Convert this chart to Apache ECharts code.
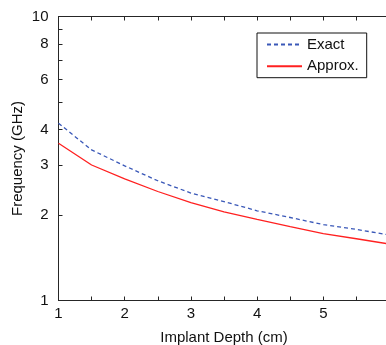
<!DOCTYPE html>
<html>
<head>
<meta charset="utf-8">
<script src="https://cdn.jsdelivr.net/npm/echarts@6/dist/echarts.min.js"></script>
<style>
html,body{margin:0;padding:0;background:#fff;}
#chart{width:386px;height:345px;}
</style>
</head>
<body>
<div id="chart"></div>
<script>
const depth = [1, 1.5, 2, 2.5, 3, 3.5, 4, 4.5, 5, 5.5, 6];
const exact = [4.21, 3.39, 2.98, 2.64, 2.39, 2.23, 2.07, 1.96, 1.85, 1.78, 1.70];
const approx = [3.58, 3.00, 2.68, 2.42, 2.21, 2.05, 1.93, 1.82, 1.72, 1.65, 1.58];
const yTickValues = [1, 2, 3, 4, 5, 6, 7, 8, 9, 10];
const yLabelValues = [1, 2, 3, 4, 6, 8, 10];
const xLabelValues = [1, 2, 3, 4, 5, 6];

const font = 'Liberation Sans, Arial, sans-serif';
const axisColor = '#262626';

const chart = echarts.init(document.getElementById('chart'), null, {renderer: 'canvas'});
chart.setOption({
  animation: false,
  backgroundColor: '#ffffff',
  grid: {left: 58.5, top: 16.5, width: 331, height: 284, containLabel: false, outerBoundsMode: 'none'},
  xAxis: [{
    type: 'value', min: 1, max: 6, interval: 0.5, position: 'bottom',
    name: 'Implant Depth (cm)', nameLocation: 'middle', nameGap: 30, nameMoveOverlap: false,
    nameTextStyle: {fontFamily: font, fontSize: 15, color: '#111'},
    axisLine: {show: true, lineStyle: {color: axisColor, width: 1}},
    axisTick: {show: true, inside: true, length: 4, lineStyle: {color: axisColor}},
    axisLabel: {customValues: xLabelValues, showMaxLabel: true, hideOverlap: false, fontFamily: font, fontSize: 15, color: '#111', margin: 6},
    splitLine: {show: false}
  }, {
    type: 'value', min: 1, max: 6, interval: 0.5, position: 'top',
    axisLine: {show: true, onZero: false, lineStyle: {color: axisColor, width: 1}},
    axisTick: {show: true, inside: true, length: 4, lineStyle: {color: axisColor}},
    axisLabel: {show: false},
    splitLine: {show: false}
  }],
  yAxis: {
    type: 'log', logBase: 10, min: 1, max: 10,
    name: 'Frequency (GHz)', nameLocation: 'middle', nameGap: 33, nameMoveOverlap: false,
    nameTextStyle: {fontFamily: font, fontSize: 15, color: '#111'},
    axisLine: {show: true, lineStyle: {color: axisColor, width: 1}},
    axisTick: {show: true, inside: true, length: 4, customValues: yTickValues, lineStyle: {color: axisColor}},
    axisLabel: {customValues: yLabelValues, fontFamily: font, fontSize: 15, color: '#111', margin: 10},
    splitLine: {show: false},
    minorTick: {show: false}
  },
  legend: {
    orient: 'vertical', left: 257, top: 33,
    padding: [4, 8, 4, 9], itemGap: 6.7, itemWidth: 35, itemHeight: 16,
    borderColor: '#111', borderWidth: 1, backgroundColor: '#fff', borderRadius: 0,
    textStyle: {fontFamily: font, fontSize: 15, color: '#111'},
    itemStyle: {opacity: 0},
    data: ['Exact', 'Approx.']
  },
  series: [{
    name: 'Exact', type: 'line', symbol: 'none', xAxisIndex: 0,
    data: depth.map((d, i) => [d, exact[i]]),
    lineStyle: {color: '#3a58b8', width: 1.3, type: [4, 3]},
    itemStyle: {color: '#3a58b8'}
  }, {
    name: 'Approx.', type: 'line', symbol: 'none', xAxisIndex: 0,
    data: depth.map((d, i) => [d, approx[i]]),
    lineStyle: {color: '#ff2020', width: 1.3},
    itemStyle: {color: '#ff2020'}
  }]
});
</script>
</body>
</html>
